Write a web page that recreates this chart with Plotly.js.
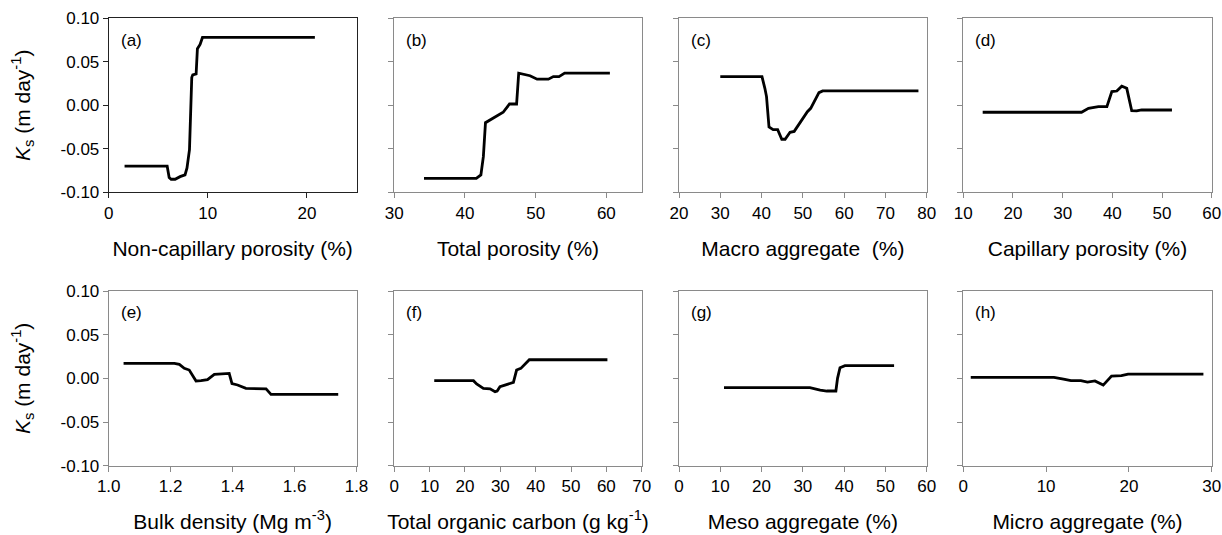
<!DOCTYPE html>
<html>
<head>
<meta charset="utf-8">
<script src="https://cdn.plot.ly/plotly-3.0.1.min.js"></script>
<style>html,body{margin:0;padding:0;background:#fff}#chart{width:1222px;height:535px}</style>
</head>
<body>
<div id="chart"></div>
<script>
// ---- Data ----
const panelLabels = ["(a)", "(b)", "(c)", "(d)", "(e)", "(f)", "(g)", "(h)"];
const xTitles = [
  "Non-capillary porosity (%)",
  "Total porosity (%)",
  "Macro aggregate  (%)",
  "Capillary porosity (%)",
  "Bulk density (Mg m<sup>-3</sup>)",
  "Total organic carbon (g kg<sup>-1</sup>)",
  "Meso aggregate (%)",
  "Micro aggregate (%)"
];
const yTitle = "<i>K</i><sub>s</sub> (m day<sup>-1</sup>)";
const yTickVals = [-0.10, -0.05, 0.00, 0.05, 0.10];
const yTickText = ["-0.10", "-0.05", "0.00", "0.05", "0.10"];

const xRanges = [[0, 25], [30, 65], [20, 80], [10, 60], [1.0, 1.8], [0, 70], [0, 60], [0, 30]];
const xDticks = [10, 10, 10, 10, 0.2, 10, 10, 10];

// (a) Non-capillary porosity
const aX = [1.6, 5.9, 6.1, 6.3, 6.7, 7.2, 7.7, 7.9, 8.15, 8.38, 8.48, 8.82, 8.95, 9.22, 9.46, 20.8];
const aY = [-0.070, -0.070, -0.083, -0.085, -0.085, -0.082, -0.080, -0.072, -0.051, 0.032, 0.035, 0.036, 0.065, 0.070, 0.078, 0.078];
// (b) Total porosity
const bX = [34.2, 41.6, 42.25, 42.6, 42.9, 44.0, 45.4, 46.3, 47.3, 47.6, 49.2, 50.2, 51.8, 52.5, 53.3, 54.1, 60.5];
const bY = [-0.084, -0.084, -0.080, -0.059, -0.020, -0.015, -0.008, 0.0015, 0.0015, 0.037, 0.034, 0.030, 0.030, 0.033, 0.033, 0.037, 0.037];
// (c) Macro aggregate
const cX = [30, 40.1, 40.8, 41.2, 41.8, 42.8, 43.9, 44.9, 45.7, 46.9, 47.9, 48.9, 50.1, 51.1, 51.9, 52.9, 53.9, 54.8, 78];
const cY = [0.033, 0.033, 0.0195, 0.010, -0.025, -0.028, -0.028, -0.039, -0.039, -0.031, -0.030, -0.023, -0.015, -0.0074, -0.0035, 0.006, 0.0145, 0.0165, 0.0165];
// (d) Capillary porosity
const dX = [13.9, 33.8, 35.2, 37.2, 38.9, 39.9, 40.9, 41.9, 42.9, 43.9, 44.9, 45.9, 52.0];
const dY = [-0.008, -0.008, -0.0035, -0.0016, -0.0016, 0.0157, 0.0164, 0.022, 0.0195, -0.0062, -0.0065, -0.0054, -0.0054];
// (e) Bulk density
const eX = [1.048, 1.212, 1.228, 1.244, 1.260, 1.282, 1.298, 1.319, 1.341, 1.357, 1.389, 1.398, 1.416, 1.443, 1.476, 1.508, 1.524, 1.741];
const eY = [0.0172, 0.0172, 0.016, 0.0115, 0.0095, -0.003, -0.0027, -0.0015, 0.0046, 0.005, 0.0057, -0.0061, -0.0076, -0.0115, -0.0115, -0.012, -0.0183, -0.0183];
// (f) Total organic carbon
const fX = [11.3, 22.4, 23.3, 25.2, 27.1, 28.5, 29.1, 29.9, 31.3, 33.7, 34.6, 35.8, 38.2, 60.3];
const fY = [-0.0027, -0.0027, -0.0065, -0.0115, -0.012, -0.0153, -0.0145, -0.0096, -0.0077, -0.0046, 0.0095, 0.0114, 0.0213, 0.0213];
// (g) Meso aggregate
const gX = [10.9, 31.7, 34.2, 35.8, 38.0, 38.4, 39.0, 40.2, 52.1];
const gY = [-0.0107, -0.0107, -0.0134, -0.0145, -0.0145, 0.000, 0.0122, 0.0145, 0.0145];
// (h) Micro aggregate
const hX = [0.9, 10.95, 12.1, 13.0, 14.2, 15.0, 15.9, 16.9, 17.9, 19.1, 19.9, 29.0];
const hY = [0.0011, 0.0011, -0.0008, -0.0027, -0.0027, -0.0042, -0.003, -0.0077, 0.0026, 0.003, 0.0049, 0.0049];

const seriesX = [aX, bX, cX, dX, eX, fX, gX, hX];
const seriesY = [aY, bY, cY, dY, eY, fY, gY, hY];

// ---- Layout geometry ----
const W = 1222, H = 535;
const colPx = [[108.7, 356.5], [394.3, 641.7], [679, 926.7], [963.3, 1211.7]];
const rowPx = [[18.3, 192.3], [291, 465.7]];
const FONT = "Arial, 'Liberation Sans', sans-serif";

const traces = [];
const layout = {
  width: W, height: H,
  margin: {l: 0, r: 0, t: 0, b: 0},
  paper_bgcolor: "#fff", plot_bgcolor: "#fff",
  showlegend: false,
  font: {family: FONT, color: "#000", size: 17},
  annotations: []
};

for (let i = 0; i < 8; i++) {
  const row = Math.floor(i / 4), col = i % 4;
  const n = i + 1;
  const xa = n === 1 ? "x" : "x" + n;
  const ya = n === 1 ? "y" : "y" + n;
  const xKey = n === 1 ? "xaxis" : "xaxis" + n;
  const yKey = n === 1 ? "yaxis" : "yaxis" + n;
  const lineCol = i === 0 ? "#222" : "#8a8a8a";
  traces.push({
    x: seriesX[i], y: seriesY[i], xaxis: xa, yaxis: ya,
    type: "scatter", mode: "lines",
    line: {color: "#000", width: 2.8},
    hoverinfo: "skip"
  });
  layout[xKey] = {
    domain: [colPx[col][0] / W, colPx[col][1] / W],
    anchor: ya,
    range: xRanges[i],
    dtick: xDticks[i], tick0: xRanges[i][0],
    tickformat: i === 4 ? ".1f" : "d",
    showgrid: false, zeroline: false,
    showline: true, mirror: true, linecolor: lineCol, linewidth: 1,
    ticks: "outside", ticklen: 5, tickcolor: lineCol, tickwidth: 1,
    tickfont: {size: 17, family: FONT, color: "#000"},
    title: {text: xTitles[i], font: {size: 21, family: FONT, color: "#000"}, standoff: 19},
    fixedrange: true
  };
  const yAxis = {
    domain: [1 - rowPx[row][1] / H, 1 - rowPx[row][0] / H],
    anchor: xa,
    range: [-0.10, 0.10],
    tickmode: "array", tickvals: yTickVals, ticktext: yTickText,
    showticklabels: col === 0,
    showgrid: false, zeroline: false,
    showline: true, mirror: true, linecolor: lineCol, linewidth: 1,
    ticks: "outside", ticklen: 5, tickcolor: lineCol, tickwidth: 1,
    tickfont: {size: 17, family: FONT, color: "#000"},
    fixedrange: true
  };
  if (col === 0) {
    yAxis.title = {text: yTitle, font: {size: 21, family: FONT, color: "#000"}, standoff: 24};
  }
  layout[yKey] = yAxis;
  layout.annotations.push({
    text: panelLabels[i], xref: xa + " domain", yref: ya + " domain",
    x: 0.04, y: 0.875, xanchor: "left", yanchor: "middle",
    showarrow: false, font: {size: 17, family: FONT, color: "#000"}
  });
}

Plotly.newPlot("chart", traces, layout, {displayModeBar: false, staticPlot: true}).then(function (gd) {
  // remove empty placeholder text nodes created for untitled axes
  gd.querySelectorAll("text").forEach(function (t) {
    if (!t.textContent || !t.textContent.trim()) t.parentNode.removeChild(t);
  });
});
</script>
</body>
</html>
